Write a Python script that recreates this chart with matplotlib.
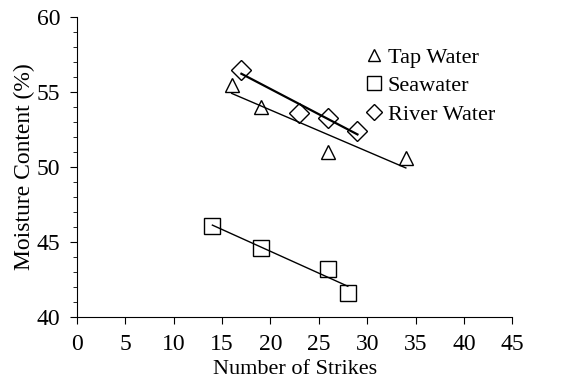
import matplotlib.pyplot as plt
import numpy as np

plt.rcParams['font.family'] = ['Liberation Serif', 'DejaVu Serif']

# Data
tap_x = [16, 19, 26, 34]
tap_y = [55.5, 54.0, 51.0, 50.6]
sea_x = [14, 19, 26, 28]
sea_y = [46.1, 44.6, 43.2, 41.6]
river_x = [17, 23, 26, 29]
river_y = [56.5, 53.6, 53.3, 52.4]

fig = plt.figure(figsize=(5.66, 3.90), dpi=100)
ax = fig.add_axes([0.136, 0.187, 0.769, 0.769])

series = [
    (tap_x, tap_y, '^', 10, 'Tap Water', 1.0),
    (sea_x, sea_y, 's', 12, 'Seawater', 1.0),
    (river_x, river_y, 'D', 10, 'River Water', 1.6),
]

for xs, ys, m, ms, label, lw in series:
    xs = np.array(xs)
    ys = np.array(ys)
    # linear trend line
    k, b = np.polyfit(xs, ys, 1)
    xl = np.array([xs.min(), xs.max()])
    ax.plot(xl, k * xl + b, color='black', lw=lw, zorder=2)
    ax.plot(xs, ys, linestyle='none', marker=m, markersize=ms,
            markerfacecolor='none', markeredgecolor='black',
            markeredgewidth=1.0, label=label, zorder=3)

ax.set_xlim(0, 45)
ax.set_ylim(40, 60)
ax.set_xticks(np.arange(0, 46, 5))
ax.set_yticks(np.arange(40, 61, 5))
ax.set_yticks(np.arange(40, 61, 1), minor=True)
ax.tick_params(axis='both', labelsize=17, direction='out', length=5, pad=7)
ax.tick_params(axis='y', which='minor', length=3)
ax.spines['top'].set_visible(False)
ax.spines['right'].set_visible(False)

ax.set_xlabel('Number of Strikes', fontsize=16, labelpad=4)
ax.set_ylabel('Moisture Content (%)', fontsize=17, labelpad=1)

ax.legend(loc='upper left', bbox_to_anchor=(0.64, 0.93), frameon=False,
          fontsize=16, handletextpad=0.15, handlelength=0.9, labelspacing=0.36,
          borderaxespad=0, markerscale=0.85)

fig.savefig('out.png', dpi=100)
